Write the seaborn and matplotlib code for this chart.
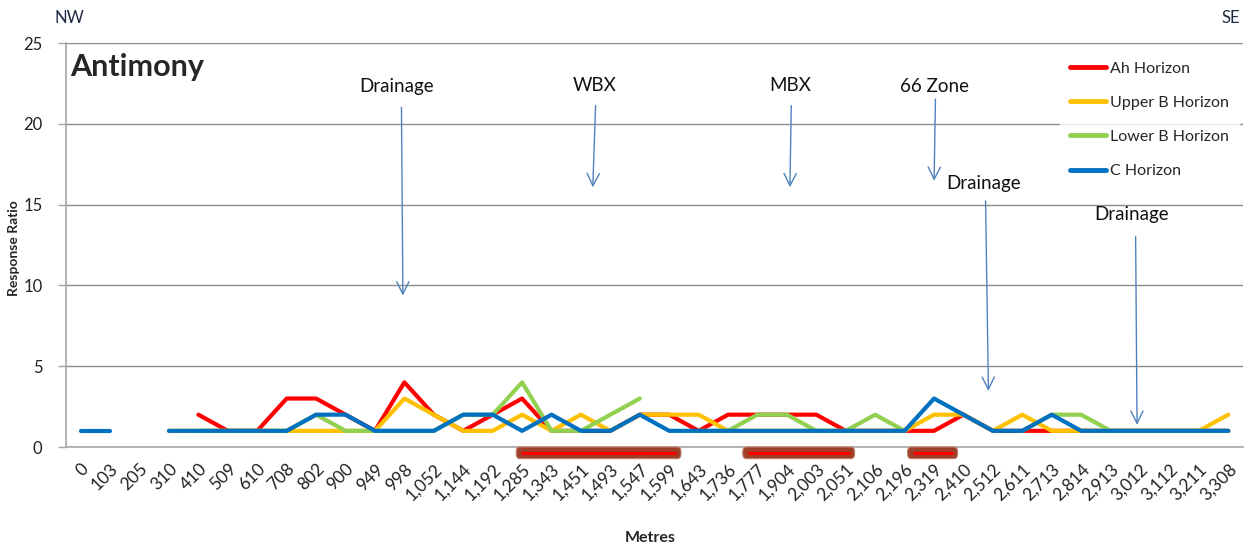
import matplotlib
matplotlib.use("Agg")
import matplotlib.pyplot as plt
from matplotlib.lines import Line2D
from matplotlib.patches import FancyBboxPatch
from matplotlib.ticker import FixedLocator
import numpy as np
import pandas as pd
import seaborn as sns

nan = np.nan

# distance along the traverse (category axis)
metres = [0, 103, 205, 310, 410, 509, 610, 708, 802, 900, 949, 998, 1052, 1144,
          1192, 1285, 1343, 1451, 1493, 1547, 1599, 1643, 1736, 1777, 1904, 2003,
          2051, 2106, 2196, 2319, 2410, 2512, 2611, 2713, 2814, 2913, 3012, 3112,
          3211, 3308]

ah_horizon = [nan, nan, nan, nan, 2, 1, 1, 3, 3, 2, 1, 4, 2, 1, 2, 3, 1, 1, 1, 2,
              2, 1, 2, 2, 2, 2, 1, 1, 1, 1, 2, 1, 1, 1, 1, 1, 1, 1, 1, 1]
upper_b = [nan, nan, nan, 1, 1, 1, 1, 1, 1, 1, 1, 3, 2, 1, 1, 2, 1, 2, 1, 2,
           2, 2, 1, 1, 1, 1, 1, 1, 1, 2, 2, 1, 2, 1, 1, 1, 1, 1, 1, 2]
lower_b = [nan, nan, nan, nan, 1, 1, 1, 1, 2, 1, 1, 1, 1, 2, 2, 4, 1, 1, 2, 3,
           nan, 1, 1, 2, 2, 1, 1, 2, 1, nan, nan, nan, 1, 2, 2, 1, 1, 1, 1, 1]
c_horizon = [1, 1, nan, 1, 1, 1, 1, 1, 2, 2, 1, 1, 1, 2, 2, 1, 2, 1, 1, 2,
             1, 1, 1, 1, 1, 1, 1, 1, 1, 3, 2, 1, 1, 2, 1, 1, 1, 1, 1, 1]

series_names = ["Ah Horizon", "Upper B Horizon", "Lower B Horizon", "C Horizon"]
series_values = [ah_horizon, upper_b, lower_b, c_horizon]
series_colors = ["#FF0000", "#FFC000", "#92D050", "#0070C0"]

# annotations: label, text position (category index, value), arrow start, arrow tip
notes = [
    ("Drainage", (10.75, 22.3), (10.9, 21.2), (10.95, 9.2)),
    ("WBX", (17.45, 22.4), (17.5, 21.3), (17.4, 15.9)),
    ("MBX", (24.1, 22.4), (24.15, 21.3), (24.1, 15.9)),
    ("66 Zone", (29.0, 22.3), (29.05, 21.7), (29.0, 16.3)),
    ("Drainage", (30.7, 16.3), (30.75, 15.4), (30.85, 3.3)),
    ("Drainage", (35.7, 14.4), (35.85, 13.2), (35.9, 1.2)),
]

# mineralised zones marked under the axis (category index start, end)
zones = [(14.8, 20.4), (22.5, 26.3), (28.1, 29.8)]

sns.set_style("white")
plt.rcParams["font.family"] = ["Lato", "DejaVu Sans"]

fig = plt.figure(figsize=(12.44, 5.48), dpi=100)
ax = fig.add_axes([66 / 1244, 1 - 447 / 548, 1177 / 1244, 404 / 548])

x_idx = np.arange(len(metres))
rows = []
for name, vals in zip(series_names, series_values):
    run = 0
    prev_nan = True
    for i, v in enumerate(vals):
        if np.isnan(v):
            prev_nan = True
            continue
        if prev_nan:
            run += 1
            prev_nan = False
        rows.append({"x": i, "y": v, "series": name, "run": f"{name}-{run}"})
df = pd.DataFrame(rows)

for name, color in zip(series_names, series_colors):
    sub = df[df["series"] == name]
    sns.lineplot(data=sub, x="x", y="y", units="run", estimator=None, sort=False,
                 color=color, lw=3.0, ax=ax, legend=False,
                 solid_capstyle="round", solid_joinstyle="round")

ax.set_xlim(-0.5, len(metres) - 0.5)
ax.set_ylim(0, 25)
ax.set_yticks([0, 5, 10, 15, 20, 25])
ax.yaxis.grid(True, color="#8c8c8c", lw=1.0)
ax.xaxis.grid(False)
ax.set_axisbelow(True)
for s in ["top", "right"]:
    ax.spines[s].set_visible(False)
for s in ["left", "bottom"]:
    ax.spines[s].set_color("#a6a6a6")
    ax.spines[s].set_linewidth(1.2)

ax.set_xticks(x_idx)
ax.set_xticklabels([f"{m:,}" for m in metres], rotation=45, ha="right",
                   rotation_mode="anchor", fontsize=12.5, color="#222222")
ax.xaxis.set_minor_locator(FixedLocator(np.arange(-0.5, len(metres), 1.0)))
ax.tick_params(axis="x", which="major", length=0, pad=10)
ax.tick_params(axis="x", which="minor", length=6, color="#a6a6a6", width=1)
ax.tick_params(axis="y", length=6, color="#a6a6a6", width=1, labelsize=12,
               labelcolor="#222222", pad=11, left=True)

ax.set_xlabel("Metres", fontsize=11.5, fontweight="bold")
ax.xaxis.label.set_va("center")
ax.xaxis.set_label_coords(0.496, -(538 - 447) / 404)
ax.set_ylabel("Response Ratio", fontsize=10, fontweight="bold")
ax.yaxis.set_label_coords(-(66 - 14) / 1177, (447 - 248) / 404)
ax.yaxis.label.set_va("center")

for label, txt, start, tip in notes:
    ax.text(txt[0], txt[1], label, ha="center", va="center", fontsize=13.5,
            color="#111111")
    ax.annotate("", xy=tip, xytext=start,
                arrowprops=dict(arrowstyle="->", color="#4F81BD", lw=1.0,
                                mutation_scale=22))

for x0, x1 in zones:
    ax.add_patch(FancyBboxPatch((x0, -0.72), x1 - x0, 0.72,
                                boxstyle="round,pad=0,rounding_size=0.12",
                                facecolor="#9E3F27", edgecolor="#C08070", lw=0.8,
                                clip_on=False, zorder=5, mutation_aspect=2.5))
    ax.plot([x0 + 0.17, x1 - 0.17], [-0.36, -0.36], color="#FF0000", lw=2.3,
            clip_on=False, zorder=6, solid_capstyle="butt")

handles = [Line2D([0], [0], color=c, lw=3.5, solid_capstyle="round")
           for c in series_colors]
leg = fig.legend(handles, series_names, loc="upper left",
                 bbox_to_anchor=(1052 / 1244, 1 - 44 / 548), frameon=True,
                 fontsize=11.5, handlelength=2.3, handletextpad=0.25,
                 labelspacing=1.25, borderpad=0.6)
leg.get_frame().set_facecolor("white")
leg.get_frame().set_edgecolor("white")

fig.text(70 / 1244, 1 - 67 / 548, "Antimony", fontsize=22, fontweight="bold",
         va="center", ha="left")
fig.text(55 / 1244, 1 - 18 / 548, "NW", fontsize=12, va="center", ha="left",
         color="#1f2a44")
fig.text(1240 / 1244, 1 - 18 / 548, "SE", fontsize=12, va="center", ha="right",
         color="#1f2a44")

fig.savefig("out.png", dpi=100)
